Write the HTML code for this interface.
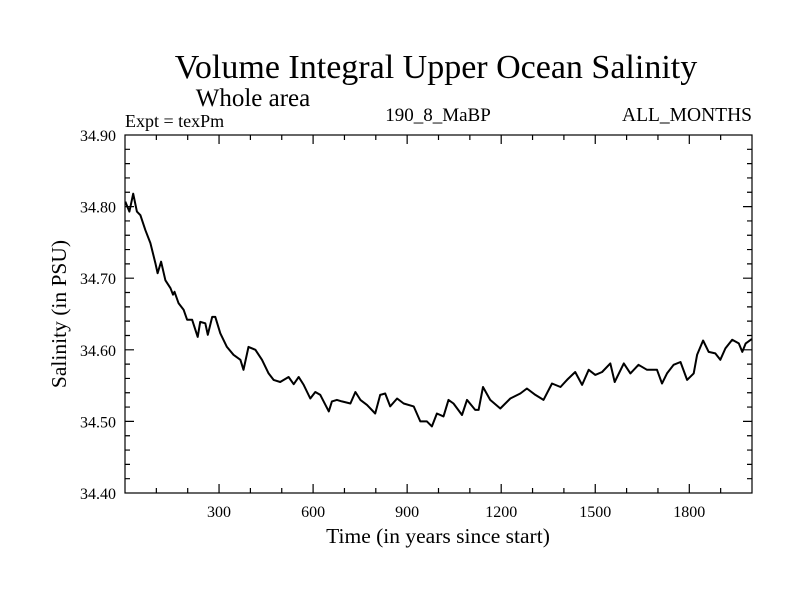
<!DOCTYPE html>
<html><head><meta charset="utf-8"><style>
body{margin:0;background:#fff}
svg text{font-family:"Liberation Serif",serif;fill:#000}
</style></head><body>
<svg id="chart" width="800" height="600" viewBox="0 0 800 600" xmlns="http://www.w3.org/2000/svg">
<rect width="800" height="600" fill="#fff"/>
<text x="436" y="78" font-size="34" text-anchor="middle">Volume Integral Upper Ocean Salinity</text>
<text x="253" y="106" font-size="25" text-anchor="middle">Whole area</text>
<text x="125" y="127" font-size="18">Expt = texPm</text>
<text x="438" y="121" font-size="19" text-anchor="middle">190_8_MaBP</text>
<text x="752" y="121" font-size="19.5" text-anchor="end">ALL_MONTHS</text>
<text x="438" y="543" font-size="21.5" text-anchor="middle">Time (in years since start)</text>
<text x="0" y="0" font-size="21.5" text-anchor="middle" transform="translate(66,314) rotate(-90)">Salinity (in PSU)</text>
<g id="axes"></g>
<g id="series"></g>
</svg>
<script>
const years=[1,14,26,38,49,65,81,97,104,115,129,145,153,158,171,187,198,214,232,240,256,264,278,288,304,325,346,368,378,394,416,437,458,474,495,522,538,554,570,591,607,623,650,660,676,692,719,735,751,772,798,814,830,846,868,889,921,942,963,979,995,1016,1032,1048,1075,1091,1117,1128,1142,1165,1197,1229,1261,1282,1309,1335,1362,1389,1410,1436,1458,1479,1500,1522,1548,1562,1591,1612,1638,1665,1697,1713,1729,1750,1772,1793,1814,1825,1844,1862,1883,1899,1915,1937,1958,1969,1980,1996,2000];
const salinity=[34.807,34.793,34.818,34.793,34.788,34.767,34.749,34.721,34.707,34.723,34.697,34.686,34.677,34.681,34.665,34.656,34.642,34.642,34.618,34.639,34.637,34.621,34.646,34.646,34.623,34.604,34.593,34.586,34.572,34.604,34.600,34.586,34.567,34.558,34.555,34.562,34.552,34.562,34.551,34.532,34.541,34.537,34.514,34.528,34.530,34.528,34.525,34.541,34.530,34.523,34.511,34.537,34.539,34.521,34.532,34.525,34.521,34.500,34.500,34.493,34.511,34.507,34.530,34.525,34.509,34.530,34.516,34.516,34.548,34.530,34.518,34.532,34.539,34.546,34.537,34.530,34.553,34.548,34.558,34.569,34.551,34.572,34.565,34.569,34.581,34.555,34.581,34.567,34.579,34.572,34.572,34.553,34.567,34.579,34.583,34.558,34.567,34.593,34.613,34.597,34.595,34.586,34.602,34.614,34.609,34.597,34.609,34.614,34.615];
const xTickLabels=[300,600,900,1200,1500,1800];
const yTickLabels=["34.40","34.50","34.60","34.70","34.80","34.90"];
const X0=0,X1=2000,Y0=34.4,Y1=34.9;
const L=125,R=752,T=135,B=493;
const xs=v=>L+(v-X0)/(X1-X0)*(R-L);
const ys=v=>B-(v-Y0)/(Y1-Y0)*(B-T);
const NS="http://www.w3.org/2000/svg";
const ax=document.getElementById('axes');
function mk(tag,attrs,parent){const e=document.createElementNS(NS,tag);for(const k in attrs)e.setAttribute(k,attrs[k]);parent.appendChild(e);return e;}
const frame=mk('rect',{x:L,y:T,width:R-L,height:B-T,fill:'none',stroke:'#000','stroke-width':1.2},ax);


let tp='';
for(let t=100;t<X1;t+=100){const x=xs(t);const len=(t%300===0)?9:5;tp+=`M${x},${B}v${-len}M${x},${T}v${len}`;}
for(let k=1;k<25;k++){const v=Y0+k*0.02;const y=ys(v);const len=(k%5===0)?9:5;tp+=`M${L},${y}h${len}M${R},${y}h${-len}`;}
const ticks=mk('path',{d:tp,stroke:'#000','stroke-width':1.2,fill:'none'},ax);


xTickLabels.forEach(t=>{const e=mk('text',{x:xs(t),y:B+24,'font-size':16,'text-anchor':'middle'},ax);e.textContent=t;

});
yTickLabels.forEach(s=>{const e=mk('text',{x:L-9,y:ys(parseFloat(s))+6,'font-size':16,'text-anchor':'end'},ax);e.textContent=s;

});
const d=years.map((t,i)=>(i?'L':'M')+xs(t).toFixed(1)+','+ys(salinity[i]).toFixed(1)).join('');
const line=mk('path',{d:d,stroke:'#000','stroke-width':2,fill:'none','stroke-linejoin':'round'},document.getElementById('series'));


</script>
</body></html>
